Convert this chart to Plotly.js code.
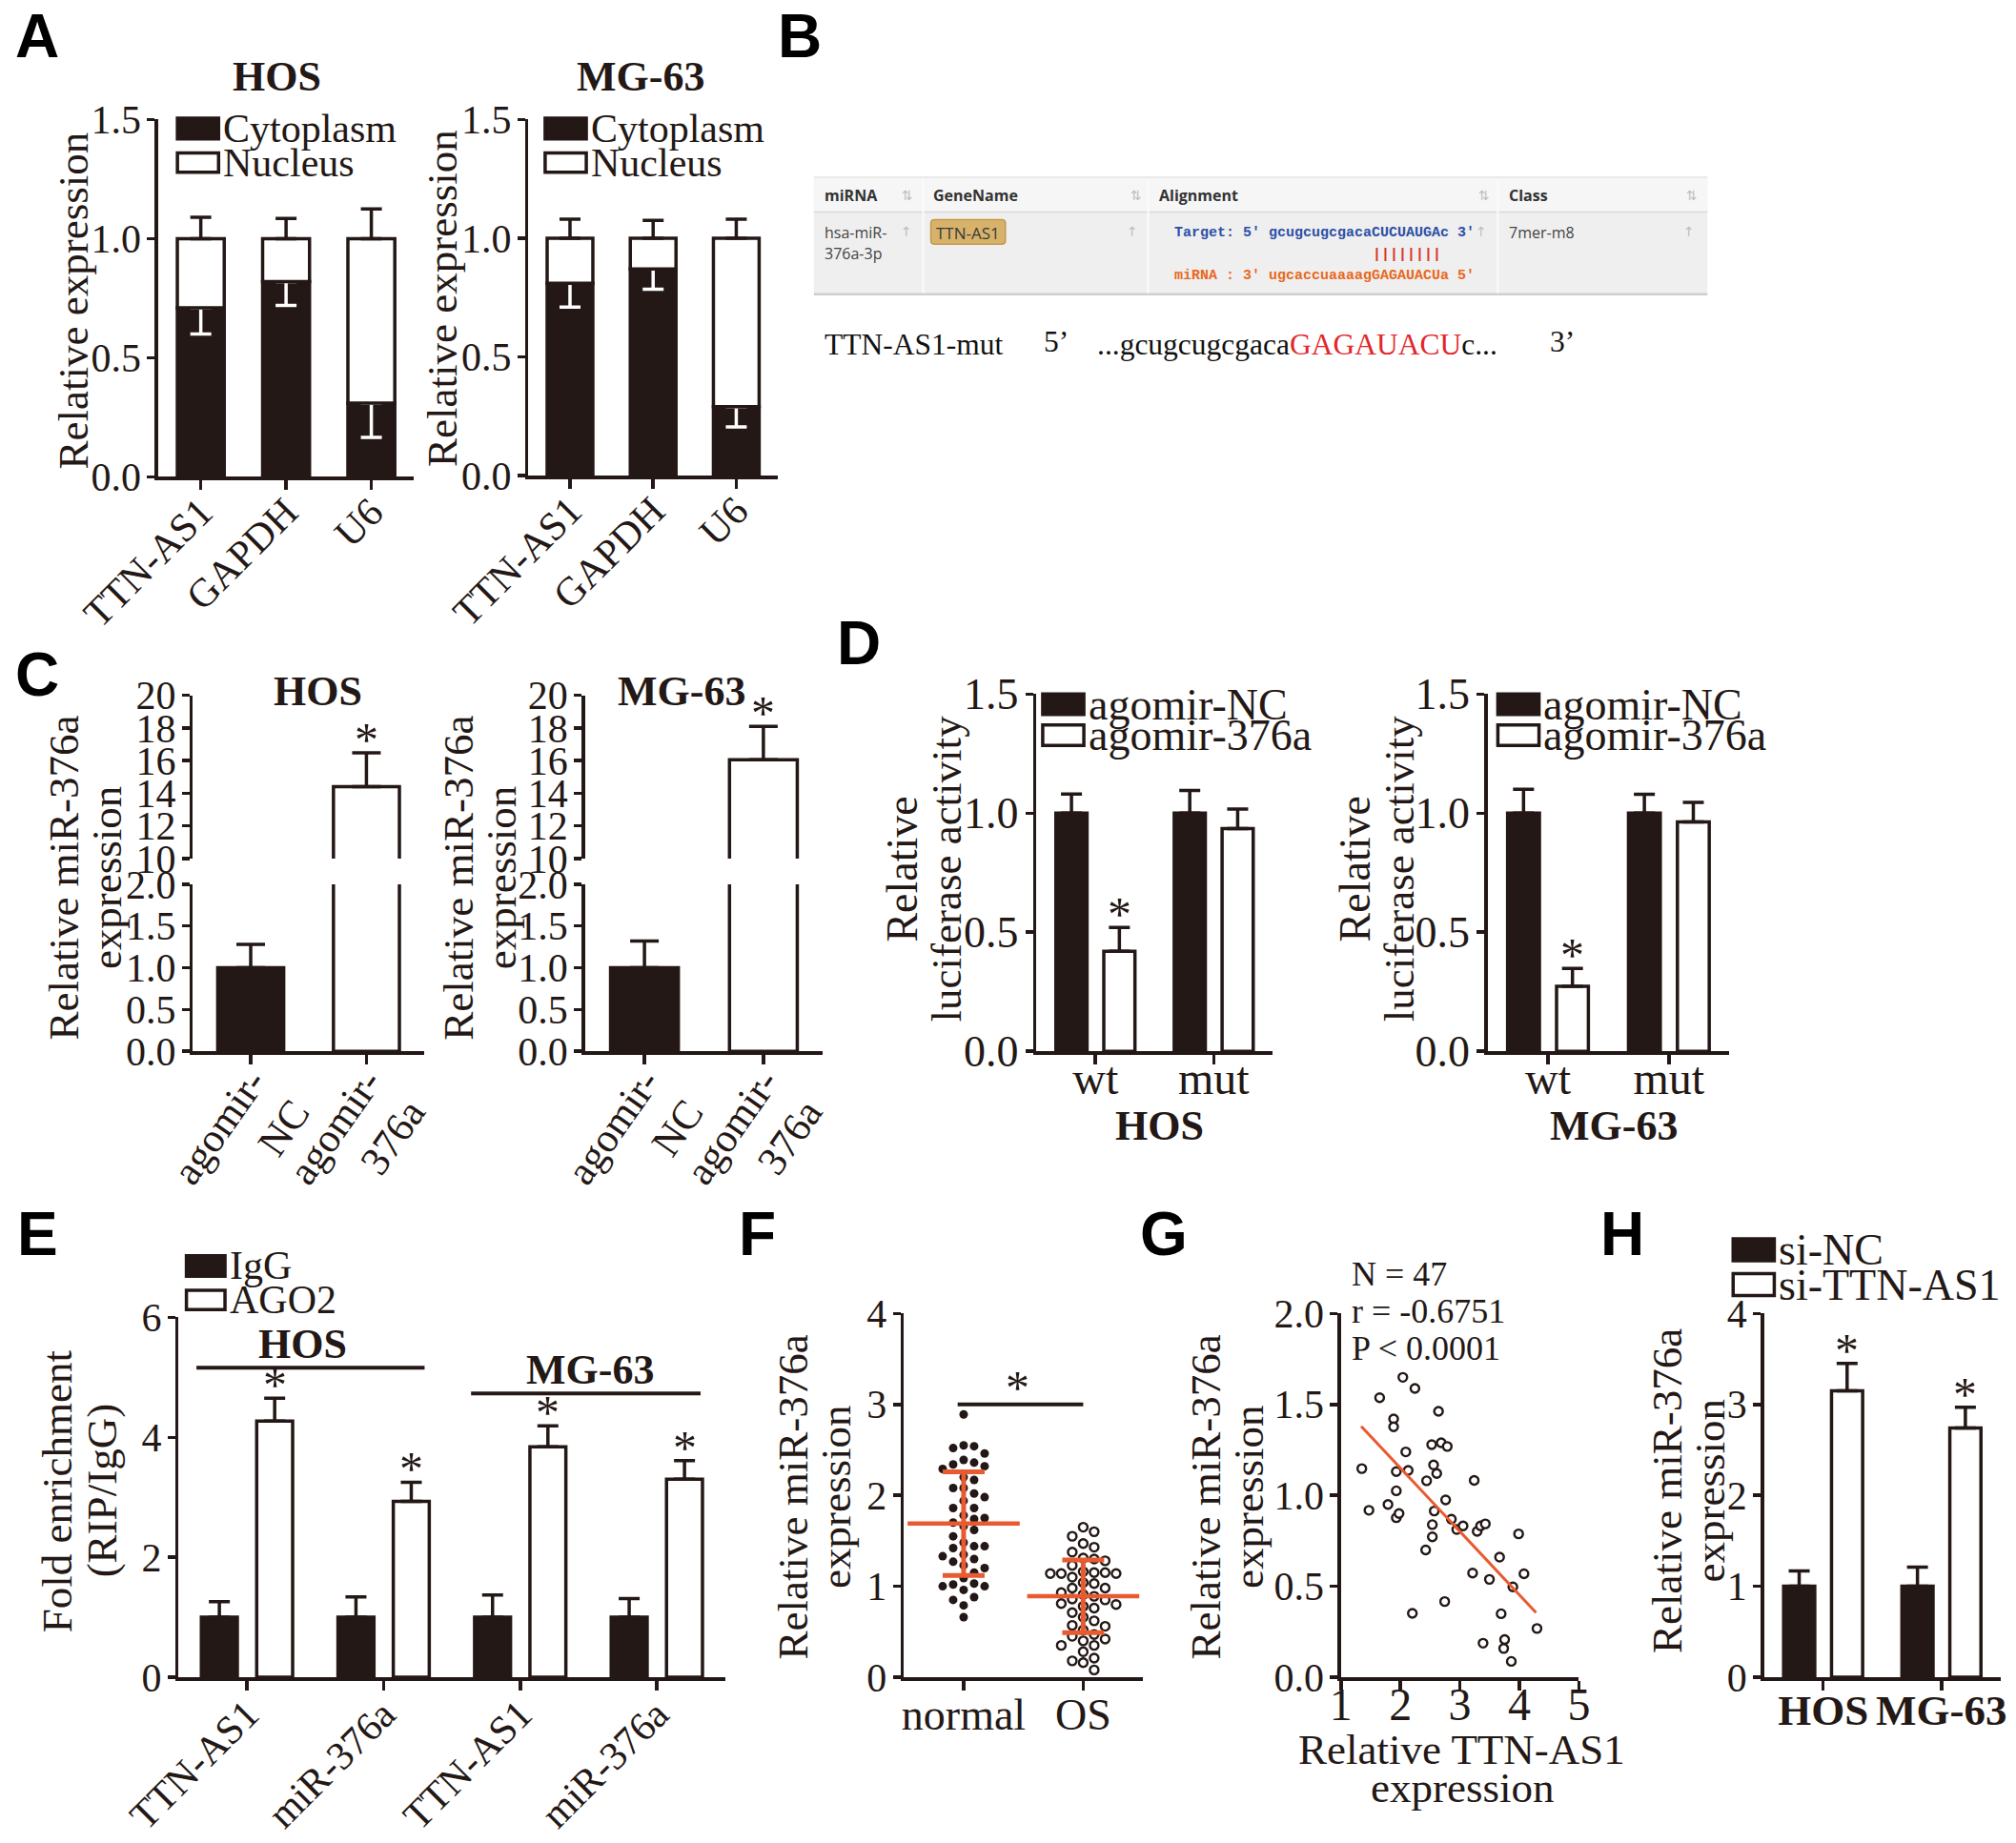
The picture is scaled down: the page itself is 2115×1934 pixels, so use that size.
<!DOCTYPE html>
<html><head><meta charset="utf-8">
<script src="https://cdn.plot.ly/plotly-3.0.1.min.js"></script>
<style>html,body{margin:0;padding:0;background:#fff}</style>
</head><body><div id="chart" style="width:2115px;height:1934px"></div>
<script>
// ================= DATA =================
// Panel A
const aCategories = ['TTN-AS1', 'GAPDH', 'U6'];
const aLegend = ['Cytoplasm', 'Nucleus'];
const aHosCyto = [0.71, 0.82, 0.31];
const aHosCytoErr = [0.11, 0.10, 0.145];
const aHosNuc = [0.29, 0.18, 0.69];
const aHosNucErr = [0.09, 0.085, 0.125];
const aMgCyto = [0.81, 0.87, 0.29];
const aMgCytoErr = [0.10, 0.085, 0.085];
const aMgNuc = [0.19, 0.13, 0.71];
const aMgNucErr = [0.08, 0.075, 0.08];
// Panel C
const cCategories = ['agomir-NC', 'agomir-376a'];
const cTickText = ['agomir-<br>NC', 'agomir-<br>376a'];
const cHos = [1.0, 14.4];
const cHosErr = [0.28, 2.07];
const cMg = [1.0, 16.05];
const cMgErr = [0.32, 2.05];
// Panel D
const dCategories = ['wt', 'mut'];
const dLegend = ['agomir-NC', 'agomir-376a'];
const dHosNC = [1.0, 1.0];
const dHosNCErr = [0.08, 0.095];
const dHos376 = [0.42, 0.935];
const dHos376Err = [0.10, 0.082];
const dMgNC = [1.0, 1.0];
const dMgNCErr = [0.10, 0.079];
const dMg376 = [0.273, 0.963];
const dMg376Err = [0.075, 0.082];
// Panel E
const eGroups = ['HOS', 'HOS', 'MG-63', 'MG-63'];
const eCategories = ['TTN-AS1', 'miR-376a', 'TTN-AS1', 'miR-376a'];
const eLegend = ['IgG', 'AGO2'];
const eIgG = [1, 1, 1, 1];
const eIgGErr = [0.26, 0.34, 0.37, 0.31];
const eAGO2 = [4.27, 2.93, 3.84, 3.30];
const eAGO2Err = [0.38, 0.32, 0.35, 0.31];
// Panel F
const fCategories = ['normal', 'OS'];
const fNormal = [2.89, 2.55, 2.52, 2.54, 2.46, 2.39, 2.36, 2.34, 2.32, 2.29, 2.20, 2.17, 2.08, 2.08, 2.02, 1.98,
  1.94, 1.86, 1.86, 1.78, 1.75, 1.74, 1.70, 1.66, 1.62, 1.55, 1.48, 1.44, 1.42, 1.44, 1.35, 1.33, 1.30, 1.27,
  1.23, 1.20, 1.15, 1.09, 1.03, 1.00, 1.00, 1.02, 0.96, 0.88, 0.85, 0.79, 0.66];
const fOS = [1.65, 1.60, 1.55, 1.47, 1.43, 1.375, 1.31, 1.30, 1.28, 1.23, 1.16, 1.15, 1.14, 1.14, 1.15, 1.14,
  1.10, 1.04, 1.03, 0.98, 0.98, 0.93, 0.91, 0.89, 0.86, 0.85, 0.81, 0.80, 0.78, 0.76, 0.71, 0.66, 0.62, 0.57,
  0.56, 0.52, 0.47, 0.45, 0.42, 0.40, 0.35, 0.35, 0.28, 0.21, 0.18, 0.16, 0.08];
const fMean = [1.69, 0.89];
const fSD = [0.57, 0.40];
const fSigY = 3.0;
// Panel G
const gX = [1.35, 1.47, 1.65, 1.79, 1.885, 1.885, 1.93, 1.93, 1.93, 1.976, 2.04, 2.09, 2.13, 2.20, 2.243, 2.44,
  2.424, 2.525, 2.557, 2.61, 2.536, 2.536, 2.568, 2.64, 2.685, 2.787, 2.76, 2.744, 2.856, 2.947, 3.053, 3.213,
  3.24, 3.29, 3.347, 3.427, 3.389, 3.496, 3.667, 3.693, 3.752, 3.736, 3.864, 3.89, 3.987, 4.077, 4.296];
const gY = [1.147, 0.918, 1.537, 0.95, 1.42, 1.377, 1.131, 1.025, 0.877, 0.90, 1.649, 1.239, 1.137, 0.351, 1.588,
  1.08, 0.70, 1.279, 1.167, 1.12, 0.839, 0.772, 0.914, 1.462, 1.289, 1.269, 0.975, 0.416, 0.869, 0.812, 0.832,
  0.573, 1.082, 0.802, 0.832, 0.843, 0.187, 0.538, 0.66, 0.349, 0.207, 0.158, 0.087, 0.497, 0.788, 0.569, 0.268];
const gFitX = [1.34, 4.28];
const gFitY = [1.38, 0.355];
const gStats = ['N = 47', 'r = -0.6751', 'P < 0.0001'];
// Panel H
const hCategories = ['HOS', 'MG-63'];
const hLegend = ['si-NC', 'si-TTN-AS1'];
const hNC = [1.0, 1.0];
const hNCErr = [0.17, 0.21];
const hSi = [3.15, 2.74];
const hSiErr = [0.30, 0.23];

// ================= HELPERS =================
const W = 2115, H = 1934, DW = 1568, DH = 1434;
const X = p => p / DW, Y = p => 1 - p / DH;
const BLK = '#231815', OR = '#E85A30';
const SERIF = 'Liberation Serif, Times New Roman, serif';
const SANS = 'Liberation Sans, Arial, sans-serif';
const FS = 42;
const GAP = 0.19, GGAP = 0.35;
const OFF = (1 - GAP) / 4;

const layout = {
  width: W, height: H, margin: {l: 0, r: 0, t: 0, b: 0},
  paper_bgcolor: '#fff', plot_bgcolor: 'rgba(0,0,0,0)', showlegend: false,
  barmode: 'group', bargap: GAP, bargroupgap: GGAP,
  font: {family: SERIF, size: FS, color: BLK},
  annotations: [], shapes: []
};
const sf = (size, bold) => ({family: SERIF, size: size, color: BLK, weight: bold ? 'bold' : 'normal'});
const axBase = () => ({showline: true, linewidth: 3.5, linecolor: BLK, ticks: 'outside', tickwidth: 3.5,
  tickcolor: BLK, showgrid: false, zeroline: false, fixedrange: true, tickfont: sf(FS)});
function xa(name, d, anchor, opts) {
  layout[name] = Object.assign(axBase(), {domain: [X(d[0]), X(d[1])], anchor: anchor, ticklen: 10}, opts || {});
}
function ya(name, d, anchor, opts) {
  layout[name] = Object.assign(axBase(), {domain: [Y(d[1]), Y(d[0])], anchor: anchor, ticklen: 8,
    ticklabelstandoff: -2}, opts || {});
}
function txt(x, y, text, o) {
  layout.annotations.push(Object.assign({xref: 'paper', yref: 'paper', x: X(x), y: Y(y), text: text,
    showarrow: false, xanchor: 'center', yanchor: 'middle', font: sf(FS)}, o || {}));
}
function vtxt(x, y, text, size) { txt(x, y, text, {textangle: -90, font: sf(size || 45)}); }
function star(xr, yr, x, y) {
  layout.annotations.push({xref: xr, yref: yr, x: x, y: y, text: '*', showarrow: false, xanchor: 'center',
    yanchor: 'bottom', yshift: -16, font: sf(50)});
}
function legendItem(bx0, by0, bx1, by1, filled, label, size) {
  layout.shapes.push({type: 'rect', xref: 'paper', yref: 'paper', x0: X(bx0), x1: X(bx1), y0: Y(by1), y1: Y(by0),
    fillcolor: filled ? BLK : '#fff', line: {color: BLK, width: 3.5}});
  txt(bx1 + 2, (by0 + by1) / 2, label, {xanchor: 'left', font: sf(size || FS)});
}
function rect(x0, y0, x1, y1, fill, line) {
  layout.shapes.push({type: 'rect', xref: 'paper', yref: 'paper', x0: X(x0), x1: X(x1), y0: Y(y1), y1: Y(y0),
    fillcolor: fill, line: line || {width: 0}, layer: 'below'});
}
function pline(x0, y0, x1, y1, color, width) {
  layout.shapes.push({type: 'line', xref: 'paper', yref: 'paper', x0: X(x0), x1: X(x1), y0: Y(y0), y1: Y(y1),
    line: {color: color, width: width}});
}
const zeros = n => new Array(n).fill(0);
function barT(x, y, err, filled, xr, yr, extra) {
  return Object.assign({type: 'bar', x: x, y: y, xaxis: xr, yaxis: yr, hoverinfo: 'skip',
    marker: {color: filled ? BLK : '#fff', line: {color: BLK, width: 3.5}},
    error_y: {type: 'data', symmetric: false, array: err, arrayminus: zeros(err.length), color: BLK, thickness: 3.5, width: 11}}, extra || {});
}

const traces = [];
const fmt1 = {tickformat: '.1f'};

// ================= PANEL A =================
const A1 = {x: [123, 322], y: [93, 371]}, A2 = {x: [411, 605], y: [93, 370]};
xa('xaxis', A1.x, 'y', {tickangle: -45, ticklabelstandoff: -18});
ya('yaxis', A1.y, 'x', Object.assign({range: [0, 1.5], dtick: 0.5, tick0: 0}, fmt1));
xa('xaxis2', A2.x, 'y2', {tickangle: -45, ticklabelstandoff: -18});
ya('yaxis2', A2.y, 'x2', Object.assign({range: [0, 1.5], dtick: 0.5, tick0: 0}, fmt1));
[[aHosCyto, aHosCytoErr, aHosNuc, aHosNucErr, 'x', 'y'], [aMgCyto, aMgCytoErr, aMgNuc, aMgNucErr, 'x2', 'y2']].forEach(s => {
  traces.push(Object.assign(barT(aCategories, s[0], zeros(3), true, s[4], s[5], {width: 0.55, offset: -0.275}), {
    error_y: {type: 'data', symmetric: false, array: zeros(3), arrayminus: s[1], color: '#fff', thickness: 3.5, width: 11}}));
  traces.push(barT(aCategories, s[2], s[3], false, s[4], s[5], {base: s[0], width: 0.55, offset: -0.275}));
});
txt(215, 60, 'HOS', {font: sf(44, true)});
txt(498, 60, 'MG-63', {font: sf(44, true)});
legendItem(138, 92, 170, 108, true, aLegend[0]);
legendItem(138, 119, 170, 134, false, aLegend[1]);
legendItem(424, 92, 456, 108, true, aLegend[0]);
legendItem(424, 119, 456, 134, false, aLegend[1]);
vtxt(57, 234, 'Relative expression');
vtxt(344, 232, 'Relative expression');

// ================= PANEL B =================
rect(633, 138, 1328, 229, '#EFEFEF');
rect(633, 138, 1328, 165, '#F6F6F6');
pline(633, 138, 1328, 138, '#E4E4E4', 1.5);
pline(633, 165, 1328, 165, '#D9D9D9', 1.5);
pline(633, 229, 1328, 229, '#CFCFCF', 2.5);
[718, 893, 1165].forEach(x => pline(x, 139, x, 228, '#FBFBFB', 2));
const hdrFont = {family: 'Open Sans, Liberation Sans, sans-serif', size: 16, color: '#333', weight: 'bold'};
const bodyFont = {family: 'Open Sans, Liberation Sans, sans-serif', size: 16, color: '#444'};
const iconFont = {family: 'DejaVu Sans, sans-serif', size: 14, color: '#BDBDBD'};
[['miRNA', 640], ['GeneName', 724], ['Alignment', 900], ['Class', 1172]].forEach(h => txt(h[1], 152, h[0], {xanchor: 'left', font: hdrFont}));
[706, 884, 1154, 1316].forEach(x => txt(x, 152, '⇅', {font: iconFont}));
[705, 881, 1152, 1314].forEach(x => txt(x, 180, '↑', {font: iconFont}));
txt(640, 181, 'hsa-miR-', {xanchor: 'left', font: bodyFont});
txt(640, 197, '376a-3p', {xanchor: 'left', font: bodyFont});
(function () {
  const x0 = X(724), x1 = X(782), y0 = Y(190), y1 = Y(171), r = 0.0018, ry = r * W / H;
  layout.shapes.push({type: 'path', xref: 'paper', yref: 'paper',
    path: `M ${x0 + r} ${y0} L ${x1 - r} ${y0} Q ${x1} ${y0} ${x1} ${y0 + ry} L ${x1} ${y1 - ry} Q ${x1} ${y1} ${x1 - r} ${y1} L ${x0 + r} ${y1} Q ${x0} ${y1} ${x0} ${y1 - ry} L ${x0} ${y0 + ry} Q ${x0} ${y0} ${x0 + r} ${y0} Z`,
    fillcolor: '#D8B26A', line: {color: '#C29A4E', width: 1.5}});
})();
txt(753, 181, 'TTN-AS1', {font: {family: 'Open Sans, Liberation Sans, sans-serif', size: 17, color: '#3a3a3a'}});
const mono = c => ({family: 'Liberation Mono, DejaVu Sans Mono, monospace', size: 15, color: c, weight: 'bold'});
txt(912, 181, "Target: 5' gcugcugcgacaCUCUAUGAc 3'", {xanchor: 'left', font: mono('#2C4FA6')});
txt(912, 198, '||||||||', {xanchor: 'left', xshift: 23 * 9.03, font: mono('#D9342B')});
txt(912, 215, "miRNA : 3' ugcaccuaaaagGAGAUACUa 5'", {xanchor: 'left', font: mono('#E8691E')});
txt(1172, 181, '7mer-m8', {xanchor: 'left', font: bodyFont});
const mutFont = {family: SERIF, size: 31.5, color: '#111'};
txt(640, 268, 'TTN-AS1-mut', {xanchor: 'left', font: mutFont});
txt(810, 266, '5’', {xanchor: 'left', font: mutFont});
txt(852, 268, '...gcugcugcgaca<span style="color:#E3262B">GAGAUACU</span>c...', {xanchor: 'left', font: mutFont});
txt(1204, 266, '3’', {xanchor: 'left', font: mutFont});

// ================= PANEL C =================
const cPanels = [
  {x: [150, 330], xa: 'xaxis3', xr: 'x3', yb: 'yaxis3', ybr: 'y3', yt: 'yaxis4', ytr: 'y4', v: cHos, e: cHosErr},
  {x: [455, 640], xa: 'xaxis4', xr: 'x4', yb: 'yaxis5', ybr: 'y5', yt: 'yaxis6', ytr: 'y6', v: cMg, e: cMgErr}
];
cPanels.forEach(p => {
  xa(p.xa, p.x, p.ybr, {tickmode: 'array', tickvals: cCategories, ticktext: cTickText, tickangle: -55,
    ticklabelstandoff: -24, tickfont: sf(43)});
  ya(p.yb, [688, 818], p.xr, Object.assign({range: [0, 2], dtick: 0.5, tick0: 0}, fmt1));
  ya(p.yt, [541, 668], p.xr, {range: [10, 20], dtick: 2, tick0: 10});
  [p.ybr, p.ytr].forEach(yr => traces.push({type: 'bar', x: cCategories, y: p.v, xaxis: p.xr, yaxis: yr, width: 0.57,
    hoverinfo: 'skip', marker: {color: [BLK, '#fff'], line: {color: BLK, width: 3.5}},
    error_y: {type: 'data', symmetric: false, array: p.e, arrayminus: [0, 0], color: BLK, thickness: 3.5, width: 15}}));
  star(p.xr, p.ytr, 1, p.v[1] + p.e[1]);
});
txt(247, 538, 'HOS', {font: sf(44, true)});
txt(530, 538, 'MG-63', {font: sf(44, true)});
vtxt(50, 683, 'Relative miR-376a');
vtxt(83, 683, 'expression');
vtxt(357, 683, 'Relative miR-376a');
vtxt(390, 683, 'expression');

// ================= PANEL D =================
const dPanels = [
  {x: [806, 990], xa: 'xaxis5', xr: 'x5', ya: 'yaxis7', yr: 'y7', nc: dHosNC, nce: dHosNCErr, ag: dHos376, age: dHos376Err, lx: 811, title: 'HOS', tx: 902, yt: 718},
  {x: [1157, 1345], xa: 'xaxis6', xr: 'x6', ya: 'yaxis8', yr: 'y8', nc: dMgNC, nce: dMgNCErr, ag: dMg376, age: dMg376Err, lx: 1165, title: 'MG-63', tx: 1255, yt: 1070}
];
dPanels.forEach(p => {
  xa(p.xa, p.x, p.yr, {tickfont: sf(48), ticklabelstandoff: -26});
  ya(p.ya, [540, 818], p.xr, Object.assign({range: [0, 1.5], dtick: 0.5, tick0: 0, tickfont: sf(46)}, fmt1));
  traces.push(barT(dCategories, p.nc, p.nce, true, p.xr, p.yr));
  traces.push(barT(dCategories, p.ag, p.age, false, p.xr, p.yr));
  star(p.xr, p.yr, OFF, p.ag[0] + p.age[0]);
  legendItem(p.lx, 540, p.lx + 32, 556, true, dLegend[0], 46);
  legendItem(p.lx, 564, p.lx + 32, 580, false, dLegend[1], 46);
  txt(p.tx, 876, p.title, {font: sf(44, true)});
  vtxt(p.yt - 16, 676, 'Relative', 46);
  vtxt(p.yt + 18, 676, 'luciferase activity', 45);
});

// ================= PANEL E =================
const eIds = eGroups.map((g, i) => g + ' ' + eCategories[i]);
xa('xaxis7', [139, 564], 'y9', {tickmode: 'array', tickvals: eIds, ticktext: eCategories, tickangle: -45,
  ticklabelstandoff: -16});
ya('yaxis9', [1025, 1305], 'x7', {range: [0, 6], dtick: 2, tick0: 0});
traces.push(barT(eIds, eIgG, eIgGErr, true, 'x7', 'y9'));
traces.push(barT(eIds, eAGO2, eAGO2Err, false, 'x7', 'y9'));
eAGO2.forEach((v, i) => star('x7', 'y9', i + OFF, v + eAGO2Err[i]));
legendItem(145, 977, 175, 993, true, eLegend[0]);
legendItem(145, 1004, 175, 1019, false, eLegend[1]);
const eGroupNames = ['HOS', 'MG-63'];
[[-0.37, 1.30, 5.16, 0.41, 5.55], [1.64, 3.32, 4.73, 2.51, 5.12]].forEach((g, k) => {
  layout.shapes.push({type: 'line', xref: 'x7', yref: 'y9', x0: g[0], x1: g[1], y0: g[2], y1: g[2], line: {color: BLK, width: 4}});
  layout.annotations.push({xref: 'x7', yref: 'y9', x: g[3], y: g[4], text: eGroupNames[k], showarrow: false,
    font: sf(44, true)});
});
vtxt(45, 1160, 'Fold enrichment');
vtxt(80, 1160, '(RIP/IgG)');

// ================= PANEL F =================
const FD = {x: [703, 889], y: [1022, 1305]};
xa('xaxis8', FD.x, 'y10', {range: [-0.5, 1.5], tickmode: 'array', tickvals: [0, 1], ticktext: fCategories,
  tickfont: sf(46), ticklabelstandoff: -14});
ya('yaxis10', FD.y, 'x8', {range: [0, 4], dtick: 1, tick0: 0});
const fPxX = (FD.x[1] - FD.x[0]) * W / DW / 2, fPxY = (FD.y[1] - FD.y[0]) * H / DH / 4;
function swarm(vals, diam, step) {
  const idx = vals.map((_, i) => i).sort((a, b) => vals[b] - vals[a]);
  const placed = [], off = vals.map(() => 0);
  idx.forEach(i => {
    const yp = vals[i] * fPxY;
    for (let k = 0; k < 40; k++) {
      const m = k === 0 ? 0 : (k % 2 === 1 ? (k + 1) / 2 : -k / 2);
      const xp = m * step;
      if (placed.every(p => (p.x - xp) ** 2 + (p.y - yp) ** 2 >= diam * diam)) {
        placed.push({x: xp, y: yp}); off[i] = xp / fPxX; break;
      }
    }
  });
  return off;
}
const offN = swarm(fNormal, 10.5, 11), offO = swarm(fOS, 11, 11.5);
traces.push({type: 'scatter', mode: 'markers', x: offN.map(o => 0 + o), y: fNormal, xaxis: 'x8', yaxis: 'y10',
  hoverinfo: 'skip', marker: {size: 9, color: BLK}});
traces.push({type: 'scatter', mode: 'markers', x: offO.map(o => 1 + o), y: fOS, xaxis: 'x8', yaxis: 'y10',
  hoverinfo: 'skip', marker: {size: 9, color: '#fff', line: {color: BLK, width: 2.4}}});
traces.push({type: 'scatter', mode: 'markers', x: [0, 1], y: fMean, xaxis: 'x8', yaxis: 'y10', hoverinfo: 'skip',
  marker: {symbol: 'line-ew', size: 84, line: {color: OR, width: 4.5}},
  error_y: {type: 'data', array: fSD, color: OR, thickness: 5, width: 22}});
layout.shapes.push({type: 'line', xref: 'x8', yref: 'y10', x0: -0.05, x1: 1.0, y0: fSigY, y1: fSigY, line: {color: BLK, width: 4}});
layout.annotations.push({xref: 'x8', yref: 'y10', x: 0.45, y: fSigY, text: '*', showarrow: false, yanchor: 'bottom',
  yshift: -12, font: sf(50)});
vtxt(617, 1165, 'Relative miR-376a');
vtxt(650, 1165, 'expression');

// ================= PANEL G =================
xa('xaxis9', [1043, 1228], 'y11', {range: [1, 5], dtick: 1, tick0: 1, tickfont: sf(48), ticklabelstandoff: -26});
ya('yaxis11', [1022, 1305], 'x9', Object.assign({range: [0, 2], dtick: 0.5, tick0: 0}, fmt1));
traces.push({type: 'scatter', mode: 'markers', x: gX, y: gY, xaxis: 'x9', yaxis: 'y11', hoverinfo: 'skip',
  marker: {size: 9, color: '#fff', line: {color: BLK, width: 2.4}}});
traces.push({type: 'scatter', mode: 'lines', x: gFitX, y: gFitY, xaxis: 'x9', yaxis: 'y11', hoverinfo: 'skip',
  line: {color: OR, width: 3}});
gStats.forEach((s, i) => txt(1050, 991 + i * 29, s, {xanchor: 'left', font: sf(36)}));
vtxt(938, 1165, 'Relative miR-376a');
vtxt(971, 1165, 'expression');
txt(1137, 1361, 'Relative TTN-AS1', {font: sf(45)});
txt(1137, 1391, 'expression', {font: sf(45)});

// ================= PANEL H =================
xa('xaxis10', [1372, 1556], 'y12', {tickfont: sf(45, true), ticklabelstandoff: -18});
ya('yaxis12', [1022, 1305], 'x10', {range: [0, 4], dtick: 1, tick0: 0});
traces.push(barT(hCategories, hNC, hNCErr, true, 'x10', 'y12'));
traces.push(barT(hCategories, hSi, hSiErr, false, 'x10', 'y12'));
hSi.forEach((v, i) => star('x10', 'y12', i + OFF, v + hSiErr[i]));
legendItem(1348, 964, 1380, 981, true, hLegend[0], 46);
legendItem(1348, 991, 1380, 1008, false, hLegend[1], 46);
vtxt(1297, 1160, 'Relative miR-376a');
vtxt(1330, 1160, 'expression');

// ================= PANEL LETTERS =================
const letterFont = {family: SANS, size: 64, color: '#000', weight: 'bold'};
const panelLetters = [['A', 29, 0], ['B', 622, 0], ['C', 29, 497], ['D', 668, 472], ['E', 29, 932], ['F', 589, 932], ['G', 905, 932], ['H', 1262, 932]];
panelLetters.forEach(p => txt(p[1], p[2], p[0], {yanchor: 'top', font: letterFont}));

Plotly.newPlot('chart', traces, layout, {displayModeBar: false, staticPlot: true});
</script>
</body></html>
